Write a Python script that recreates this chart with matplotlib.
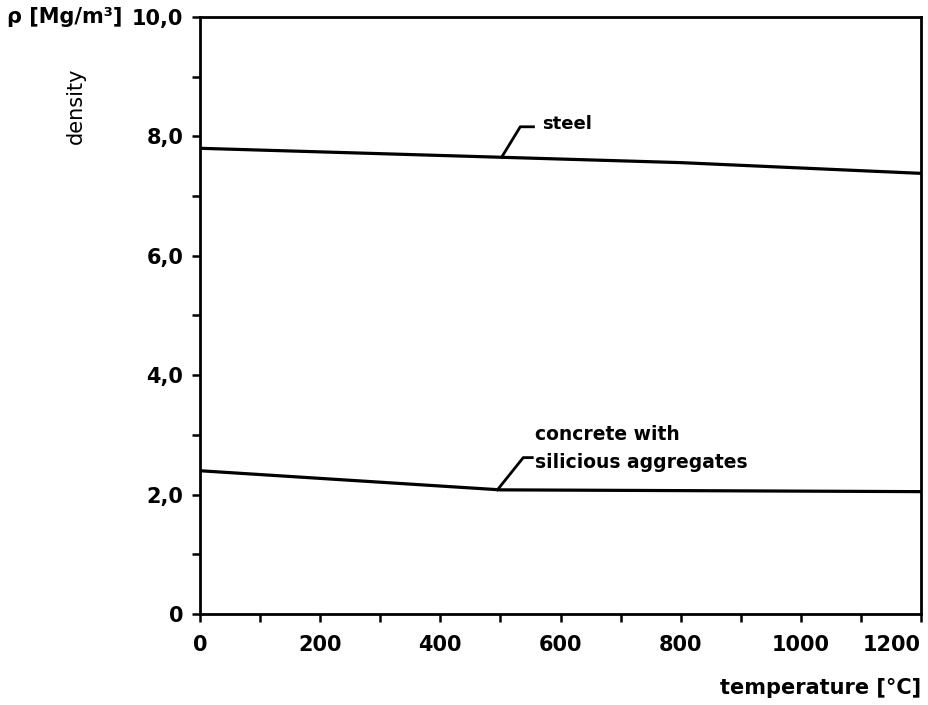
import matplotlib
matplotlib.use("Agg")
import matplotlib.pyplot as plt
from matplotlib.ticker import MultipleLocator, FixedLocator

# Density vs temperature
steel_temp = [0, 500, 800, 1200]
steel_density = [7.80, 7.65, 7.56, 7.38]

concrete_temp = [0, 500, 1200]
concrete_density = [2.40, 2.08, 2.05]

x_ticks = [0, 200, 400, 600, 800, 1000, 1200]
x_tick_labels = ["0", "200", "400", "600", "800", "1000", "1200"]
y_ticks = [0, 2, 4, 6, 8, 10]
y_tick_labels = ["0", "2,0", "4,0", "6,0", "8,0", "10,0"]

plt.rcParams["font.family"] = ["DejaVu Sans"]

fig = plt.figure(figsize=(9.29, 7.05), dpi=100)
ax = fig.add_axes([0.2153, 0.129, 0.7761, 0.847])

lw = 2.3
ax.plot(steel_temp, steel_density, color="black", lw=lw, solid_capstyle="butt")
ax.plot(concrete_temp, concrete_density, color="black", lw=lw, solid_capstyle="butt")

ax.set_xlim(0, 1200)
ax.set_ylim(0, 10)

ax.xaxis.set_major_locator(FixedLocator(x_ticks))
ax.set_xticklabels(x_tick_labels)
ax.xaxis.set_minor_locator(MultipleLocator(100))
ax.yaxis.set_major_locator(FixedLocator(y_ticks))
ax.set_yticklabels(y_tick_labels)
ax.yaxis.set_minor_locator(MultipleLocator(1))

ax.tick_params(axis="both", which="both", direction="out", width=1.8, length=6,
               labelsize=15, pad=6)
for lab in ax.get_xticklabels() + ax.get_yticklabels():
    lab.set_fontweight("bold")
ax.get_xticklabels()[-1].set_horizontalalignment("right")
ax.tick_params(axis="x", which="major", pad=9)

for s in ax.spines.values():
    s.set_linewidth(2.0)

# axis labels
fig.text(0.008, 0.976, "ρ [Mg/m³]", fontsize=15, fontweight="bold",
         ha="left", va="center")
fig.text(0.082, 0.85, "density", fontsize=15, rotation=90,
         ha="center", va="center")
fig.text(0.991, 0.024, "temperature [°C]", fontsize=15, fontweight="bold",
         ha="right", va="center")

# leader lines and labels
ax.plot([502, 533, 555], [7.65, 8.16, 8.16], color="black", lw=2.0)
ax.text(570, 8.2, "steel", fontsize=13, fontweight="bold", ha="left", va="center")

ax.plot([495, 538, 553], [2.08, 2.62, 2.62], color="black", lw=2.0)
ax.text(558, 3.0, "concrete with", fontsize=13.5, fontweight="bold",
        ha="left", va="center")
ax.text(558, 2.54, "silicious aggregates", fontsize=13.5, fontweight="bold",
        ha="left", va="center")

fig.savefig("out.png", dpi=100)
